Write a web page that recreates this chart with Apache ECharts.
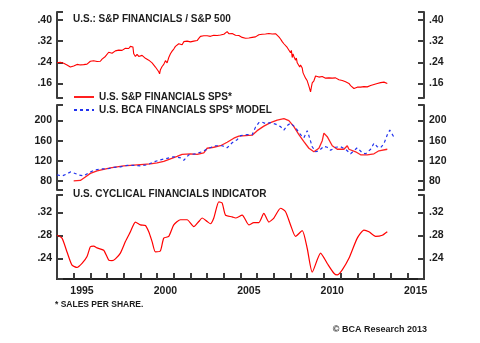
<!DOCTYPE html>
<html><head><meta charset="utf-8">
<script src="https://cdn.jsdelivr.net/npm/echarts@6/dist/echarts.min.js"></script>
<style>html,body{margin:0;padding:0;background:#fff}#c{width:480px;height:343px}</style>
</head><body><div id="c"></div>
<script>
// ---- DATA ----
const ratioYears = [1994.0,1994.1,1994.2,1994.3,1994.4,1994.5,1994.6,1994.7,1994.8,1994.9,
1995.0,1995.1,1995.2,1995.3,1995.4,1995.5,1995.6,1995.7,1995.8,1995.9,
1996.0,1996.1,1996.2,1996.3,1996.4,1996.5,1996.6,1996.7,1996.8,1996.9,
1997.0,1997.1,1997.2,1997.3,1997.4,1997.5,1997.6,1997.7,1997.8,1997.9,
1998.0,1998.1,1998.2,1998.3,1998.4,1998.5,1998.55,1998.6,1998.7,1998.8,1998.9,
1999.0,1999.1,1999.2,1999.3,1999.4,1999.5,1999.6,1999.7,1999.8,1999.9,
2000.0,2000.1,2000.15,2000.2,2000.3,2000.4,2000.5,2000.6,2000.7,2000.8,2000.9,
2001.0,2001.1,2001.2,2001.3,2001.4,2001.5,2001.6,2001.7,2001.8,2001.9,
2002.0,2002.1,2002.2,2002.3,2002.4,2002.5,2002.6,2002.7,2002.8,2002.9,
2003.0,2003.1,2003.2,2003.3,2003.4,2003.5,2003.6,2003.7,2003.8,2003.9,
2004.0,2004.1,2004.2,2004.3,2004.4,2004.5,2004.6,2004.7,2004.8,2004.9,
2005.0,2005.1,2005.2,2005.3,2005.4,2005.5,2005.6,2005.7,2005.8,2005.9,
2006.0,2006.1,2006.2,2006.3,2006.4,2006.5,2006.6,2006.7,2006.8,2006.9,
2007.0,2007.1,2007.2,2007.3,2007.4,2007.5,2007.6,2007.7,2007.8,2007.9,
2008.0,2008.05,2008.1,2008.15,2008.2,2008.3,2008.35,2008.4,2008.5,2008.55,2008.6,2008.7,2008.75,2008.8,2008.9,
2009.0,2009.1,2009.15,2009.2,2009.25,2009.3,2009.4,2009.5,2009.6,2009.7,2009.8,2009.9,
2010.0,2010.1,2010.2,2010.3,2010.4,2010.5,2010.6,2010.7,2010.8,2010.9,
2011.0,2011.1,2011.2,2011.3,2011.4,2011.5,2011.6,2011.7,2011.8,2011.9,
2012.0,2012.1,2012.2,2012.3,2012.4,2012.5,2012.6,2012.7,2012.8,2012.9,
2013.0,2013.1,2013.2,2013.3,2013.4,2013.5,2013.6,2013.7,2013.8];
const ratioVals = [.238,.244,.240,.246,.236,.234,.230,.226,.222,.228,
.226,.230,.232,.227,.230,.235,.231,.236,.233,.240,
.244,.250,.246,.251,.243,.247,.244,.252,.258,.262,
.266,.278,.284,.274,.278,.283,.279,.286,.290,.285,
.289,.293,.296,.292,.300,.295,.298,.272,.262,.270,.262,
.258,.266,.262,.255,.258,.248,.246,.238,.232,.222,
.216,.204,.196,.212,.224,.232,.246,.238,.258,.272,.282,
.290,.300,.296,.310,.314,.306,.318,.312,.320,.314,
.317,.312,.320,.316,.322,.330,.338,.344,.340,.345,
.340,.344,.338,.344,.342,.346,.341,.346,.343,.349,
.346,.352,.356,.348,.344,.349,.345,.342,.339,.341,
.337,.334,.336,.331,.329,.332,.328,.334,.338,.336,
.342,.344,.341,.346,.350,.347,.345,.349,.351,.347,
.350,.348,.344,.336,.328,.318,.310,.306,.296,.290,
.276,.285,.258,.272,.262,.248,.256,.238,.244,.222,.230,.218,.200,.206,.180,
.170,.150,.155,.128,.146,.162,.170,.188,.192,.184,.182,.186,
.183,.180,.184,.181,.186,.180,.178,.181,.176,.174,
.173,.171,.172,.166,.164,.160,.152,.146,.141,.144,
.146,.143,.146,.144,.148,.145,.147,.150,.152,.155,
.156,.158,.160,.159,.163,.162,.165,.162,.160];

const spsYears = [1995.0,1995.4,1995.7,1996.0,1996.4,1996.8,1997.2,1997.6,1998.0,1998.4,1998.8,1999.2,1999.6,2000.0,2000.4,2000.8,2001.2,2001.5,2002.0,2002.4,2002.8,2003.0,2003.4,2003.8,2004.2,2004.6,2004.9,2005.3,2005.7,2006.0,2006.4,2006.8,2007.2,2007.6,2007.9,2008.2,2008.5,2008.8,2009.1,2009.4,2009.7,2009.9,2010.0,2010.2,2010.5,2010.8,2011.2,2011.4,2011.5,2011.9,2012.2,2012.6,2013.0,2013.3,2013.8];
const spsVals = [80,81,88,95,100,103,106,108,110,111,112,113,114,116,119,124,129,133,134,133,136,145,147,150,157,165,169,170,171,180,189,196,201,204,200,188,172,158,145,138,145,160,175,168,150,143,143,150,143,138,132,132,134,140,143];

const modelYears = [1994.0,1994.3,1994.6,1994.8,1995.0,1995.3,1995.6,1995.9,1996.2,1996.6,1997.0,1997.4,1997.8,1998.2,1998.6,1999.0,1999.4,1999.8,2000.2,2000.6,2001.0,2001.4,2001.6,2001.9,2002.3,2002.7,2003.1,2003.5,2003.9,2004.2,2004.5,2004.8,2005.0,2005.4,2005.7,2005.9,2006.1,2006.3,2006.5,2006.8,2007.1,2007.4,2007.6,2007.8,2008.0,2008.3,2008.6,2008.8,2009.0,2009.1,2009.3,2009.5,2009.7,2010.0,2010.2,2010.4,2010.7,2011.0,2011.3,2011.6,2011.8,2012.0,2012.3,2012.5,2012.8,2013.0,2013.2,2013.4,2013.6,2013.8,2013.95,2014.2];
const modelVals = [92,90,94,98,96,92,90,96,101,104,104,107,108,111,111,110,112,118,122,125,128,126,121,132,134,138,145,150,150,146,156,162,170,172,172,187,196,197,194,196,193,188,181,190,195,186,172,166,180,170,148,138,140,149,147,141,147,148,143,134,140,146,136,134,143,155,148,146,154,172,181,167];

const cycYears = [1994.0,1994.3,1994.6,1994.9,1995.2,1995.5,1995.8,1996.0,1996.2,1996.4,1996.8,1997.1,1997.3,1997.5,1997.8,1998.1,1998.4,1998.7,1999.0,1999.3,1999.5,1999.7,1999.9,2000.2,2000.4,2000.7,2001.0,2001.4,2001.8,2002.2,2002.5,2002.7,2003.0,2003.2,2003.4,2003.7,2003.9,2004.1,2004.5,2004.7,2005.1,2005.5,2005.8,2006.1,2006.4,2006.7,2007.0,2007.4,2007.7,2008.0,2008.3,2008.7,2009.0,2009.3,2009.8,2010.2,2010.6,2010.8,2011.1,2011.5,2012.0,2012.4,2012.7,2013.1,2013.5,2013.8];
const cycVals = [.280,.275,.251,.228,.224,.231,.243,.260,.261,.258,.254,.237,.236,.239,.249,.269,.286,.303,.298,.297,.286,.269,.251,.253,.275,.278,.298,.307,.307,.295,.304,.310,.304,.300,.310,.338,.336,.315,.312,.310,.315,.298,.302,.302,.318,.303,.310,.327,.321,.298,.278,.288,.257,.216,.249,.231,.214,.211,.220,.240,.275,.289,.286,.278,.280,.286];

const yearCats = ['1994','1995','1996','1997','1998','1999','2000','2001','2002','2003','2004','2005','2006','2007','2008','2009','2010','2011','2012','2013','2014','2015'];
const ratioTicks = [0.16, 0.24, 0.32, 0.40];
const spsTicks = [80, 120, 160, 200];
const cycTicks = [0.24, 0.28, 0.32];
const seriesNames = ['U.S. S&P FINANCIALS SPS*', 'U.S. BCA FINANCIALS SPS* MODEL'];

// ---- CHART ----
const FONT = 'Arial, "Liberation Sans", sans-serif';
const TXT = '#1c1c1c';
const AX = '#3c3c3c';
const zip = (xs, ys) => xs.map((x, i) => [x, ys[i]]);
const dec = v => v.toFixed(2).replace(/^0/, '');

function yAx(gi, pos, min, max, ticks, fmt) {
  return {
    type: 'value', gridIndex: gi, position: pos, min: min, max: max,
    axisLine: {show: true, lineStyle: {color: AX, width: 2}},
    axisTick: {show: true, inside: true, length: 6, customValues: [min].concat(ticks, [max]), lineStyle: {color: AX, width: 2}},
    axisLabel: {customValues: ticks, formatter: fmt, margin: 5, color: TXT, fontSize: 10.5, fontWeight: 'bold', fontFamily: FONT},
    splitLine: {show: false}
  };
}
function xHidden(gi) {
  return {type: 'value', gridIndex: gi, min: 1994, max: 2016, show: false, splitLine: {show: false}};
}
const grids = [
  {left: 57, right: 56, top: 12, height: 86},
  {left: 57, right: 56, top: 105, height: 85},
  {left: 57, right: 56, top: 195, height: 84}
];
const fmtInt = v => String(Math.round(v));
const option = {
  animation: false,
  backgroundColor: '#fff',
  textStyle: {fontFamily: FONT},
  grid: grids,
  title: [
    {text: 'U.S.: S&P FINANCIALS / S&P 500', left: 73, top: 14, padding: 0, textStyle: {fontSize: 10, fontWeight: 'bold', color: TXT, fontFamily: FONT}},
    {text: 'U.S. CYCLICAL FINANCIALS INDICATOR', left: 73, top: 189.5, padding: 0, textStyle: {fontSize: 10, fontWeight: 'bold', color: TXT, fontFamily: FONT}},
    {text: '* SALES PER SHARE.', left: 55, top: 300, padding: 0, textStyle: {fontSize: 8.5, fontWeight: 'bold', color: TXT, fontFamily: FONT}},
    {text: '© BCA Research 2013', right: 53, top: 325.5, padding: 0, textStyle: {fontSize: 9, fontWeight: 'bold', color: TXT, fontFamily: FONT}}
  ],
  legend: {
    data: seriesNames, orient: 'vertical', left: 73, top: 92, padding: 0,
    itemWidth: 20, itemHeight: 10, itemGap: 3,
    itemStyle: {opacity: 0},
    textStyle: {fontSize: 10, fontWeight: 'bold', color: TXT, fontFamily: FONT}
  },
  xAxis: [
    xHidden(0), xHidden(1), xHidden(2),
    {type: 'category', gridIndex: 2, data: yearCats, boundaryGap: true, position: 'bottom',
     axisLine: {show: true, lineStyle: {color: '#222', width: 2}},
     axisTick: {show: true, inside: true, length: 6, interval: 0, alignWithLabel: false, lineStyle: {color: AX, width: 2}},
     axisLabel: {interval: (i, v) => Number(v) % 5 === 0, margin: 7, color: TXT, fontSize: 10.5, fontWeight: 'bold', fontFamily: FONT},
     splitLine: {show: false}}
  ],
  yAxis: [
    yAx(0, 'left', 0.105, 0.430, ratioTicks, dec),
    yAx(0, 'right', 0.105, 0.430, ratioTicks, dec),
    yAx(1, 'left', 62, 231, spsTicks, fmtInt),
    yAx(1, 'right', 62, 231, spsTicks, fmtInt),
    yAx(2, 'left', 0.204, 0.350, cycTicks, dec),
    yAx(2, 'right', 0.204, 0.350, cycTicks, dec)
  ],
  series: [
    {type: 'line', name: 'S&P FINANCIALS / S&P 500', xAxisIndex: 0, yAxisIndex: 0, data: zip(ratioYears, ratioVals), symbol: 'none', lineStyle: {color: '#ff0000', width: 1.1}, itemStyle: {color: '#ff0000'}},
    {type: 'line', name: seriesNames[0], xAxisIndex: 1, yAxisIndex: 2, data: zip(spsYears, spsVals), symbol: 'none', z: 3, lineStyle: {color: '#ff2020', width: 1.3}, itemStyle: {color: '#ff2020'}},
    {type: 'line', name: seriesNames[1], xAxisIndex: 1, yAxisIndex: 2, data: zip(modelYears, modelVals), symbol: 'none', z: 4, lineStyle: {color: '#2233ee', width: 1.2, type: [3, 3]}, itemStyle: {color: '#2233ee'}},
    {type: 'line', name: 'CYCLICAL', xAxisIndex: 2, yAxisIndex: 4, data: zip(cycYears, cycVals), symbol: 'none', smooth: 0.2, lineStyle: {color: '#ff0000', width: 1.2}, itemStyle: {color: '#ff0000'}}
  ]
};
const chart = echarts.init(document.getElementById('c'), null, {renderer: 'canvas'});
chart.setOption(option);
</script>
</body></html>
